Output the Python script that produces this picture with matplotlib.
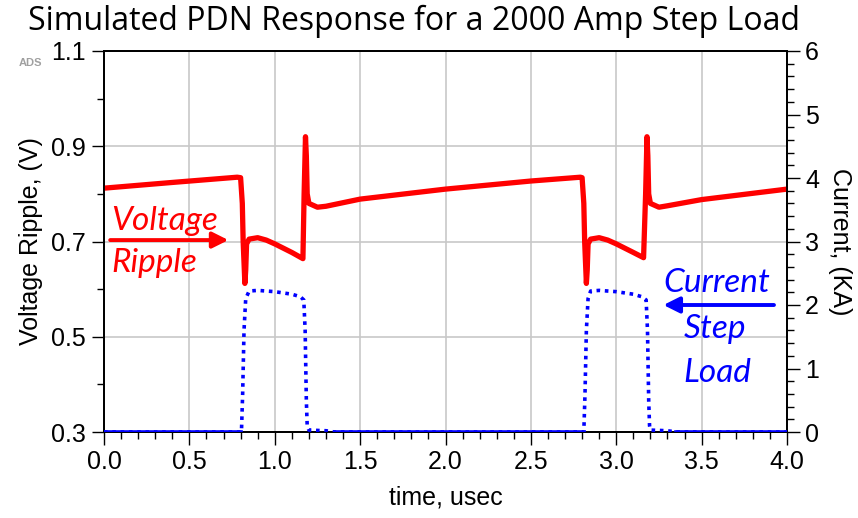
import numpy as np
import matplotlib.pyplot as plt
from matplotlib.ticker import MultipleLocator

# voltage ripple (V) vs time (usec)
t_v = [0.0, 0.4, 0.78, 0.80, 0.81, 0.815, 0.825, 0.83, 0.835, 0.85, 0.9, 0.95, 1.0, 1.1, 1.165,
       1.172, 1.18, 1.185, 1.19, 1.20, 1.25, 1.3, 1.5, 2.0, 2.5, 2.79,
       2.80, 2.81, 2.815, 2.825, 2.83, 2.835, 2.85, 2.9, 2.95, 3.0, 3.1, 3.16,
       3.172, 3.18, 3.185, 3.19, 3.20, 3.25, 3.3, 3.5, 4.0]
volt = [0.812, 0.824, 0.835, 0.834, 0.78, 0.70, 0.612, 0.64, 0.695, 0.705, 0.708, 0.703, 0.695, 0.677, 0.664,
        0.80, 0.92, 0.88, 0.80, 0.78, 0.772, 0.774, 0.789, 0.810, 0.827, 0.835,
        0.834, 0.78, 0.70, 0.612, 0.64, 0.695, 0.705, 0.708, 0.703, 0.695, 0.677, 0.666,
        0.80, 0.92, 0.88, 0.80, 0.78, 0.772, 0.775, 0.788, 0.810]

# step load current (KA) vs time (usec)
t_i = [0.0, 0.805, 0.812, 0.82, 0.83, 0.85, 0.9, 1.0, 1.1, 1.15, 1.17, 1.178, 1.185, 1.19, 1.2, 1.3, 1.35,
       2.81, 2.817, 2.825, 2.835, 2.85, 2.9, 3.0, 3.1, 3.15, 3.175, 3.183, 3.19, 3.195, 3.2, 3.3, 3.35, 4.0]
curr = [0.0, 0.0, 0.6, 1.6, 2.1, 2.22, 2.23, 2.21, 2.17, 2.13, 2.08, 1.6, 0.5, 0.1, 0.03, 0.02, 0.0,
        0.0, 0.6, 1.6, 2.1, 2.22, 2.23, 2.21, 2.17, 2.13, 2.08, 1.6, 0.5, 0.1, 0.03, 0.02, 0.0, 0.0]

x_ticks = np.arange(0, 4.01, 0.5)
v_ticks = [0.3, 0.5, 0.7, 0.9, 1.1]
i_ticks = [0, 1, 2, 3, 4, 5, 6]

plt.rcParams['font.family'] = ['Liberation Sans', 'DejaVu Sans']

fig = plt.figure(figsize=(8.58, 5.18), dpi=100)
ax = fig.add_axes([104/858, 1-432/518, (787-104)/858, (432-51)/518])
ax2 = ax.twinx()

ax.set_xlim(0, 4)
ax.set_ylim(0.3, 1.1)
ax2.set_ylim(0, 6)
ax.set_xticks(x_ticks)
ax.set_xticklabels([f"{v:.1f}" for v in x_ticks])
ax.set_yticks(v_ticks)
ax.set_yticklabels([f"{v:.1f}" for v in v_ticks])
ax2.set_yticks(i_ticks)
ax.xaxis.set_minor_locator(MultipleLocator(0.1))
ax.yaxis.set_minor_locator(MultipleLocator(0.1))
ax2.yaxis.set_minor_locator(MultipleLocator(0.2))
ax.grid(True, which='major', color='#c8c8c8', lw=1.2)
ax.tick_params(which='major', length=9, width=1, labelsize=18, colors='black', pad=4)
ax.tick_params(which='minor', length=5, width=1)
ax2.tick_params(which='major', length=9, width=1, labelsize=18, pad=4)
ax2.tick_params(which='minor', length=5, width=1)
for a in (ax, ax2):
    for s in a.spines.values():
        s.set_linewidth(1.3)

ax.plot(t_v, volt, color='#ff0000', lw=3.8, solid_joinstyle='round', zorder=5)
curr_arr = np.array(curr)
ax2.plot(t_i, curr, color='#0000ff', lw=2.6, ls=(0, (1, 1.3)), zorder=4)
ax2.plot(t_i, np.where(curr_arr < 0.01, curr_arr, np.nan), color='#0000ff', lw=2.6, zorder=4)

ax.set_xlabel("time, usec", fontsize=18, labelpad=8)
ax.set_ylabel("Voltage Ripple, (V)", fontsize=18, labelpad=6)
ax2.set_ylabel("Current, (KA)", fontsize=18, rotation=270, labelpad=24)

fig.text(414/858, 1-21/518, "Simulated PDN Response for a 2000 Amp Step Load",
         fontsize=23, family='Open Sans', ha='center', va='center')
fig.text(30/858, 1-63/518, "ADS", fontsize=8, color='#a0a0a0', ha='center', va='center',
         fontweight='bold')

# annotations
red = '#ff0000'
blue = '#0000ff'
ax.text(0.045, 0.742, "Voltage", color=red, fontsize=24, family='Lato', style='italic',
        ha='left', va='center')
ax.text(0.045, 0.655, "Ripple", color=red, fontsize=24, family='Lato', style='italic',
        ha='left', va='center')
ax.annotate("", xy=(0.745, 0.703), xytext=(0.02, 0.703),
            arrowprops=dict(arrowstyle='-|>', color=red, lw=2.8, mutation_scale=24))
ax2.text(3.59, 2.34, "Current", color=blue, fontsize=24, family='Lato', style='italic',
         ha='center', va='center')
ax2.text(3.58, 1.62, "Step", color=blue, fontsize=24, family='Lato', style='italic',
         ha='center', va='center')
ax2.text(3.59, 0.93, "Load", color=blue, fontsize=24, family='Lato', style='italic',
         ha='center', va='center')
ax2.annotate("", xy=(3.26, 2.0), xytext=(3.94, 2.0),
             arrowprops=dict(arrowstyle='-|>', color=blue, lw=2.8, mutation_scale=24))

fig.savefig("out.png", dpi=100)
